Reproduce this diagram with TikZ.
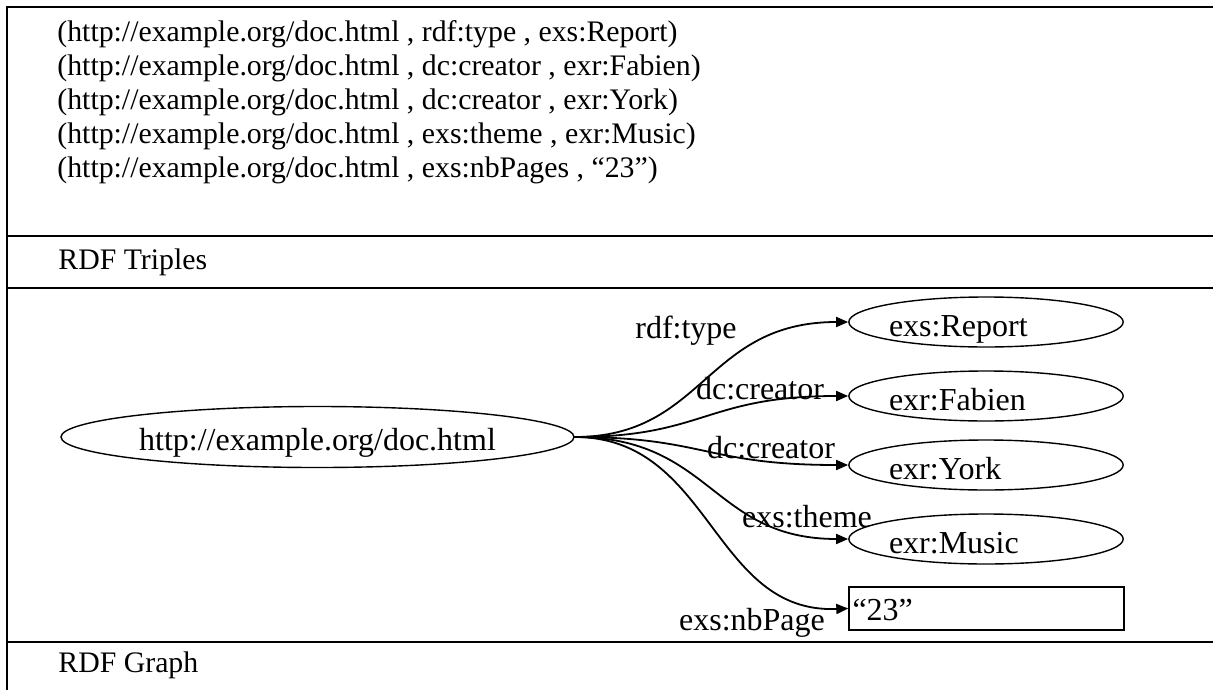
\documentclass[tikz,border=0pt]{standalone}
\usepackage{fontspec}
\setmainfont{Liberation Serif}
\usetikzlibrary{shapes.geometric, arrows.meta, positioning, calc}

% text sits low in the graph boxes
\newcommand{\lowered}[2]{\raisebox{-#1}[0pt][0pt]{#2}}

\tikzset{
	rule/.style={line width=1.3pt},
	subj/.style={draw, ellipse, line width=0.7pt, minimum width=256.5pt, minimum height=30.5pt, inner sep=0pt, font=\fontsize{16}{19}\selectfont},
	res/.style={draw, ellipse, line width=0.7pt, minimum width=137pt, minimum height=25pt, inner sep=0pt, text width=97pt, align=left, font=\fontsize{16}{19}\selectfont},
	lit/.style={draw, rectangle, line width=0.7pt, minimum height=21.5pt, text width=134pt, inner xsep=1.75pt, inner ysep=0pt, align=left, font=\fontsize{16}{19}\selectfont},
	prop/.style={inner sep=0pt, font=\fontsize{16}{19}\selectfont},
	row/.style={anchor=west, inner sep=0pt, font=\fontsize{14.9}{17}\selectfont},
	arc/.style={-{Triangle[length=6pt,width=5pt]}, line width=0.9pt},
}

\begin{document}
\begin{tikzpicture}[x=0.5pt, y=-0.5pt]
		\useasboundingbox (0,0) rectangle (1213,690);
		
		% Table
		\draw[rule] (1213,7) -- (7,7) -- (7,690);
		\draw[rule] (7,236) -- (1213,236);
		\draw[rule] (7,288) -- (1213,288);
		\draw[rule] (7,642) -- (1213,642);
		
		% Triples
		\node[row] (t1) at (57,34) {(http://example.org/doc.html , rdf:type , exs:Report)};
		\node[row] (t2) at (57,68) {(http://example.org/doc.html , dc:creator , exr:Fabien)};
		\node[row] (t3) at (57,102) {(http://example.org/doc.html , dc:creator , exr:York)};
		\node[row] (t4) at (57,136) {(http://example.org/doc.html , exs:theme , exr:Music)};
		\node[row] (t5) at (57,170) {(http://example.org/doc.html , exs:nbPages , “23”)};
		\node[row] (capT) at (58,262) {RDF Triples};
		\node[row] (capG) at (58,665) {RDF Graph};
		
		% Graph
		\node[subj] (doc) at (317.5,437) {\lowered{6.5pt}{http://example.org/doc.html}};
		\node[res] (report) at (986,322) {\lowered{7pt}{exs:Report}};
		\node[res] (fabien) at (986,396) {\lowered{7pt}{exr:Fabien}};
		\node[res] (york) at (986,465) {\lowered{7pt}{exr:York}};
		\node[res] (music) at (986,539) {\lowered{7pt}{exr:Music}};
		\node[lit] (pages) at (986.5,608.5) {\lowered{5.75pt}{“23”}};
		
		\draw[arc] (doc.east) .. controls (705,437) and (705,322) .. (report.west);
		\draw[arc] (doc.east) .. controls (705,437) and (705,396) .. (fabien.west);
		\draw[arc] (doc.east) .. controls (705,437) and (705,465) .. (york.west);
		\draw[arc] (doc.east) .. controls (712,437) and (712,539) .. (music.west);
		\draw[arc] (doc.east) .. controls (712,437) and (712,614) .. (pages.west);
		
		% Properties
		\node[prop] (p1) at (686,331) {rdf:type};
		\node[prop] (p2) at (760,389) {dc:creator};
		\node[prop] (p3) at (771,448) {dc:creator};
		\node[prop] (p4) at (807,517) {exs:theme};
		\node[prop] (p5) at (752,623) {exs:nbPage};
	  \end{tikzpicture}
\end{document}
